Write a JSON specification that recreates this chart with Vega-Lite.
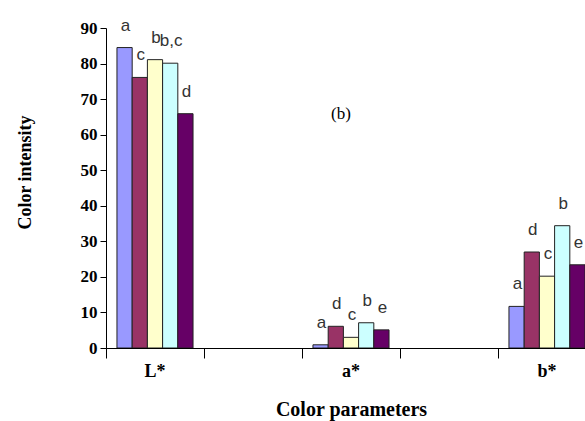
{
  "$schema": "https://vega.github.io/schema/vega-lite/v6.json",
  "autosize": {"type": "none"},
  "width": 479,
  "height": 320,
  "padding": {"left": 106, "top": 28, "right": 0, "bottom": 73},
  "background": "white",
  "config": {"view": {"stroke": null}},
  "datasets": {
    "bars": [
      {"param": "L*", "sample": "1", "value": 84.5, "letter": "a"},
      {"param": "L*", "sample": "2", "value": 76.1, "letter": "c"},
      {"param": "L*", "sample": "3", "value": 81.1, "letter": "b"},
      {"param": "L*", "sample": "4", "value": 80.1, "letter": "b,c"},
      {"param": "L*", "sample": "5", "value": 65.9, "letter": "d"},
      {"param": "a*", "sample": "1", "value": 0.9, "letter": "a"},
      {"param": "a*", "sample": "2", "value": 6.1, "letter": "d"},
      {"param": "a*", "sample": "3", "value": 3.0, "letter": "c"},
      {"param": "a*", "sample": "4", "value": 7.1, "letter": "b"},
      {"param": "a*", "sample": "5", "value": 5.1, "letter": "e"},
      {"param": "b*", "sample": "1", "value": 11.7, "letter": "a"},
      {"param": "b*", "sample": "2", "value": 27.0, "letter": "d"},
      {"param": "b*", "sample": "3", "value": 20.2, "letter": "c"},
      {"param": "b*", "sample": "4", "value": 34.4, "letter": "b"},
      {"param": "b*", "sample": "5", "value": 23.4, "letter": "e"}
    ],
    "note": [{"param": "a*", "value": 64.5, "text": "(b)"}]
  },
  "encoding": {
    "x": {
      "field": "param", "type": "nominal", "title": "Color parameters",
      "scale": {"domain": ["L*", "g1", "a*", "g2", "b*"], "range": [0, 490], "paddingInner": 0, "paddingOuter": 0},
      "axis": {
        "bandPosition": 0,
        "labelExpr": "indexof(['g1','g2'], datum.value) >= 0 ? '' : datum.value",
        "labelAngle": 0,
        "tickSize": 10,
        "tickColor": "#000000",
        "domainColor": "#000000",
        "labelFont": "Liberation Serif",
        "labelFontWeight": "bold",
        "labelFontSize": 18,
        "labelColor": "#000000",
        "labelPadding": 4,
        "titleFont": "Liberation Serif",
        "titleFontWeight": "bold",
        "titleFontSize": 20,
        "titleColor": "#000000",
        "titlePadding": 19
      }
    },
    "y": {
      "field": "value", "type": "quantitative", "title": "Color intensity",
      "scale": {"domain": [0, 90], "nice": false},
      "axis": {
        "values": [0, 10, 20, 30, 40, 50, 60, 70, 80, 90],
        "tickCount": 10,
        "labelOverlap": false,
        "labelFlush": false,
        "grid": false,
        "tickSize": 6,
        "tickColor": "#000000",
        "domainColor": "#000000",
        "labelFont": "Liberation Serif",
        "labelFontWeight": "bold",
        "labelFontSize": 17,
        "labelColor": "#000000",
        "labelPadding": 3,
        "titleFont": "Liberation Serif",
        "titleFontWeight": "bold",
        "titleFontSize": 18,
        "titleColor": "#000000",
        "titleX": -72,
        "titleY": 144
      }
    }
  },
  "layer": [
    {
      "data": {"name": "bars"},
      "mark": {"type": "bar", "stroke": "#222222", "strokeWidth": 1, "clip": true},
      "encoding": {
        "xOffset": {
          "field": "sample", "type": "nominal",
          "scale": {"domain": ["1", "2", "3", "4", "5"], "paddingInner": 0, "paddingOuter": 0.72}
        },
        "color": {
          "field": "sample", "type": "nominal", "legend": null,
          "scale": {"domain": ["1", "2", "3", "4", "5"], "range": ["#9999FF", "#993366", "#FFFFCC", "#CCFFFF", "#660066"]}
        }
      }
    },
    {
      "data": {"name": "bars"},
      "mark": {"type": "text", "font": "Liberation Sans Narrow, Liberation Sans", "fontSize": 17, "baseline": "alphabetic", "dy": -17, "dx": 1, "color": "#333333"},
      "encoding": {
        "xOffset": {"field": "sample", "type": "nominal"},
        "text": {"field": "letter"}
      }
    },
    {
      "data": {"name": "note"},
      "mark": {"type": "text", "font": "Liberation Serif", "fontSize": 17, "baseline": "alphabetic", "dx": -10, "color": "#000000"},
      "encoding": {
        "text": {"field": "text"}
      }
    }
  ]
}
